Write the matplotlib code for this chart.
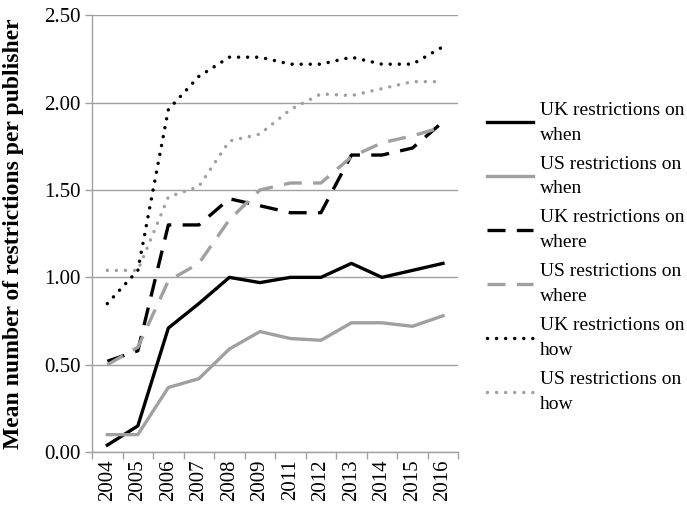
import numpy as np
import matplotlib
matplotlib.use('Agg')
import matplotlib.pyplot as plt

# Шрифт
plt.rcParams['font.family'] = ['Liberation Serif', 'DejaVu Serif']
plt.rcParams['font.size'] = 14

# Данные
years = ['2004', '2005', '2006', '2007', '2008', '2009', '2011', '2012',
         '2013', '2014', '2015', '2016']
uk_when = [0.04, 0.15, 0.71, 0.85, 1.00, 0.97, 1.00, 1.00, 1.08, 1.00, 1.04, 1.08]
us_when = [0.10, 0.10, 0.37, 0.42, 0.59, 0.69, 0.65, 0.64, 0.74, 0.74, 0.72, 0.78]
uk_where = [0.52, 0.58, 1.30, 1.30, 1.45, 1.41, 1.37, 1.37, 1.70, 1.70, 1.74, 1.89]
us_where = [0.50, 0.60, 0.98, 1.08, 1.33, 1.50, 1.54, 1.54, 1.69, 1.77, 1.81, 1.86]
uk_how = [0.85, 1.04, 1.96, 2.15, 2.26, 2.26, 2.22, 2.22, 2.26, 2.22, 2.22, 2.32]
us_how = [1.04, 1.04, 1.46, 1.52, 1.78, 1.82, 1.96, 2.05, 2.04, 2.08, 2.12, 2.12]

BLACK = '#000000'
GRAY = '#a0a0a0'
DASH = (5.4, 3.4)
DOT = (0.01, 2.6)

fig = plt.figure(figsize=(6.87, 5.08), dpi=100)
ax = fig.add_axes([0.134, 0.110, 0.533, 0.860])

x = np.arange(len(years))
ax.plot(x, uk_when, color=BLACK, linewidth=2.4, label='UK restrictions on\nwhen')
ax.plot(x, us_when, color=GRAY, linewidth=2.4, label='US restrictions on\nwhen')
ax.plot(x, uk_where, color=BLACK, linewidth=2.4, dashes=DASH, label='UK restrictions on\nwhere')
ax.plot(x, us_where, color=GRAY, linewidth=2.4, dashes=DASH, label='US restrictions on\nwhere')
ax.plot(x, uk_how, color=BLACK, linewidth=2.5, dashes=DOT, dash_capstyle='round',
        label='UK restrictions on\nhow')
ax.plot(x, us_how, color=GRAY, linewidth=2.5, dashes=DOT, dash_capstyle='round',
        label='US restrictions on\nhow')

# Оси
ax.set_xlim(-0.5, len(years) - 0.5)
ax.set_ylim(0, 2.5)
yt = np.arange(0, 2.51, 0.5)
ax.set_yticks(yt)
ax.set_yticklabels([f'{v:.2f}' for v in yt], fontsize=15)
ax.set_xticks(x)
ax.set_xticklabels(years, rotation=90, fontsize=15)
ax.set_xticks(np.arange(-0.5, len(years), 1), minor=True)
ax.tick_params(axis='x', which='major', length=0, pad=5)
ax.tick_params(axis='x', which='minor', length=5, color=GRAY, width=1)
ax.tick_params(axis='y', length=5, color=GRAY, width=1, pad=3)
ax.grid(axis='y', color=GRAY, linewidth=1)
ax.set_axisbelow(True)
for s in ['top', 'right']:
    ax.spines[s].set_visible(False)
for s in ['left', 'bottom']:
    ax.spines[s].set_color(GRAY)
    ax.spines[s].set_linewidth(1)

ax.set_ylabel('Mean number of restrictions per publisher', fontsize=17, fontweight='bold')
ax.yaxis.set_label_coords(-0.185, 0.5)

leg = fig.legend(loc='upper left', bbox_to_anchor=(0.697, 0.815), frameon=False, fontsize=14,
                 handlelength=2.4, handletextpad=0.35, labelspacing=0.62, borderaxespad=0)
for t in leg.get_texts():
    t.set_linespacing(1.6)

fig.savefig('out.png', dpi=100)
